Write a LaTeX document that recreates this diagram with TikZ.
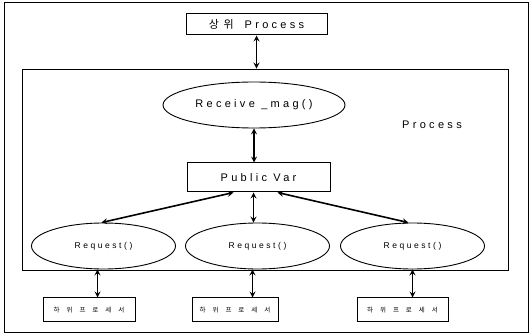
\documentclass[tikz,border=0pt]{standalone}
\usepackage{fontspec}
\setmainfont{Liberation Sans}[LetterSpace=30]
\newfontfamily\kr{Noto Sans CJK KR}[LetterSpace=20]
\usetikzlibrary{shapes.geometric}
\tikzset{
	boxnode/.style={draw,line width=1pt,inner sep=0pt},
	callnode/.style={draw,ellipse,line width=0.9pt,inner sep=0pt,minimum height=46pt},
	link/.style={<->,line width=1.6pt},
	subname/.style={font=\kr\fontsize{6.5}{8}\selectfont}
}
\newcommand{\subproc}{하\hspace{7pt}위\hspace{7pt}프\hspace{7pt}로\hspace{7pt}세\hspace{7pt}서}
\begin{document}
\begin{tikzpicture}[>=stealth,x=1pt,y=-1pt]
		\useasboundingbox (0,0) rectangle (531,334);
		\draw[line width=0.8pt] (4,2) rectangle (528,332);
		\node[draw,line width=0.9pt,minimum width=486pt,minimum height=201pt] (proc) at (265,169.5) {};
		\node[font=\fontsize{11}{13}\selectfont] (proclabel) at (432,125) {Process};
		\node[boxnode,minimum width=141pt,minimum height=21pt,font=\fontsize{11}{13}\selectfont] (upper) at (256.5,24.5) {{\kr 상 위}\quad Process};
		\node[callnode,minimum width=182pt,font=\fontsize{11}{13}\selectfont] (recv) at (254,105) {Receive \_mag()};
		\node[boxnode,minimum width=143pt,minimum height=29pt,font=\fontsize{11}{13}\selectfont] (pubvar) at (258.5,177.5) {Public Var};
		\foreach \i/\x in {1/103.5,2/257.5,3/412.5}
		\node[callnode,minimum width=144pt,font=\fontsize{8.5}{10}\selectfont] (req\i) at (\x,246) {Request()};
		\node[boxnode,minimum width=92pt,minimum height=24pt,subname] (sub1) at (89,310) {\subproc};
		\node[boxnode,minimum width=86pt,minimum height=24pt,subname] (sub2) at (235,310) {\subproc};
		\node[boxnode,minimum width=91pt,minimum height=24pt,subname] (sub3) at (402.5,310) {\subproc};
		\draw[link] (upper.south) -- (upper.south |- proc.north);
		\draw[link] (recv.south) -- (recv.south |- pubvar.north);
		\draw[link] ([xshift=-25pt]pubvar.south) -- (req1.95);
		\draw[link] ([xshift=-5pt]pubvar.south) -- ([xshift=-5pt]pubvar.south |- req2.north);
		\draw[link] ([xshift=19pt]pubvar.south) -- (req3.100);
		\foreach \i/\d in {1/-6,2/-5,3/0}
		\draw[link] ([xshift=\d pt]req\i.south) -- ([xshift=\d pt]req\i.south |- sub\i.north);
\end{tikzpicture}
\end{document}
